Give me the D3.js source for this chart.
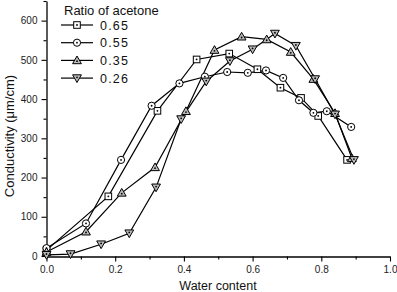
<!DOCTYPE html>
<html><head><meta charset="utf-8">
<script src="https://cdn.jsdelivr.net/npm/d3@7/dist/d3.min.js"></script>
<style>body{margin:0;background:#fff}svg{display:block}text{font-family:"Liberation Sans",Arial,sans-serif}</style>
</head><body><svg id="c" width="397" height="292"></svg>
<script>
const seriesNames = ["0.65","0.55","0.35","0.26"];
const markerTypes = ["square","circle","triangle","triangleDown"];
const x065 = [0,0.18,0.323,0.437,0.532,0.614,0.681,0.741,0.791,0.875];
const y065 = [15,152,370,501,516,476,429,403,357,245];
const x055 = [0,0.115,0.217,0.306,0.387,0.461,0.526,0.586,0.639,0.689,0.735,0.777,0.816,0.887];
const y055 = [20,83,245,383,440,457,469,467,473,454,397,365,369,329];
const x035 = [0,0.115,0.219,0.316,0.406,0.489,0.568,0.641,0.711,0.777,0.84,0.889];
const y035 = [10,62,161,226,369,525,559,552,520,451,364,249];
const x026 = [0,0.07,0.159,0.241,0.319,0.392,0.465,0.534,0.600,0.665,0.726,0.782,0.84,0.895];
const y026 = [3,5,30,58,175,349,445,497,527,567,536,451,361,245];
const xTicks = [0,0.2,0.4,0.6,0.8,1.0];
const yTicks = [0,100,200,300,400,500,600];
const legendTitle = "Ratio of acetone";
const xTitle = "Water content";
const yTitle = "Conductivity (\u03bcm/cm)";

const xs=[x065,x055,x035,x026], ys=[y065,y055,y035,y026];
const series = seriesNames.map((n,i)=>({name:n, type:markerTypes[i], pts:xs[i].map((v,j)=>[v,ys[i][j]])}));

const svg=d3.select("#c");
const x=d3.scaleLinear().domain([0,1]).range([46.5,390]);
const y=d3.scaleLinear().domain([0,650]).range([256,1]);

// axes
const gx=svg.append("g").attr("transform","translate(0,256.5)");
gx.call(d3.axisBottom(x).tickValues(d3.range(0,1.01,0.1)).tickFormat("").tickSizeInner(3).tickSizeOuter(0));
gx.selectAll(".tick").filter(d=>xTicks.some(t=>Math.abs(t-d)<1e-6)).select("line").attr("y2",5);
gx.selectAll(".tick").filter(d=>xTicks.some(t=>Math.abs(t-d)<1e-6)).append("text")
  .attr("y",13.5).attr("dy","0.32em").attr("text-anchor","middle").attr("fill","#222").style("font-size","10px")
  .text(d=>d3.format(".1f")(d));
const gy=svg.append("g").attr("transform","translate(46.5,0)");
gy.call(d3.axisLeft(y).tickValues(d3.range(0,651,50)).tickFormat("").tickSizeInner(3).tickSizeOuter(0));
gy.selectAll(".tick").filter(d=>yTicks.includes(d)).select("line").attr("x2",-5);
gy.selectAll(".tick").filter(d=>yTicks.includes(d)).append("text")
  .attr("x",-9).attr("dy","0.32em").attr("text-anchor","end").attr("fill","#222").style("font-size","10px")
  .text(d=>d);
svg.selectAll(".domain").attr("stroke","#000").attr("stroke-width",1.3);
svg.selectAll(".tick line").attr("stroke","#000").attr("stroke-width",1.1);

// lines
const line=d3.line().x(d=>x(d[0])).y(d=>y(d[1]));
series.forEach(s=>{
  svg.append("path").datum(s.pts).attr("d",line).attr("fill","none").attr("stroke","#000").attr("stroke-width",1.2);
});
function marker(g,type,cx,cy){
  let sh;
  if(type==="square") sh=g.append("rect").attr("x",cx-3.3).attr("y",cy-3.3).attr("width",6.6).attr("height",6.6);
  else if(type==="circle") sh=g.append("circle").attr("cx",cx).attr("cy",cy).attr("r",3.6);
  else {
    const s=4.4, dir=type==="triangle"?-1:1;
    const pts=[[cx,cy+dir*s],[cx-s,cy-dir*s*0.75],[cx+s,cy-dir*s*0.75]];
    sh=g.append("polygon").attr("points",pts.map(p=>p.join(",")).join(" "));
  }
  sh.attr("fill",type.startsWith("tri")?"#bbb":"#fff").attr("stroke","#000").attr("stroke-width",1);
  g.append("circle").attr("cx",cx).attr("cy",type==="triangle"?cy+0.8:type==="triangleDown"?cy-0.8:cy).attr("r",0.9).attr("fill","#000");
}
series.forEach(s=>{
  const g=svg.append("g");
  s.pts.forEach(p=>marker(g,s.type,x(p[0]),y(p[1])));
});

// legend
svg.append("text").attr("x",64).attr("y",15).style("font-size","13px").attr("fill","#111").text(legendTitle);
series.forEach((s,i)=>{
  const ly=25+i*17.7;
  const g=svg.append("g");
  g.append("line").attr("x1",61).attr("x2",93).attr("y1",ly).attr("y2",ly).attr("stroke","#000").attr("stroke-width",1.2);
  marker(g,s.type,77,ly);
  g.append("text").attr("x",100).attr("y",ly).attr("dy","0.36em").style("font-size","12.5px").style("letter-spacing","1.2px").attr("fill","#111").text(s.name);
});

// titles
svg.append("text").attr("x",218).attr("y",290).attr("text-anchor","middle").style("font-size","12.5px").attr("fill","#111").text(xTitle);
svg.append("text").attr("transform","translate(14,136) rotate(-90)").attr("text-anchor","middle").style("font-size","13px").attr("fill","#111").text(yTitle);
</script></body></html>
